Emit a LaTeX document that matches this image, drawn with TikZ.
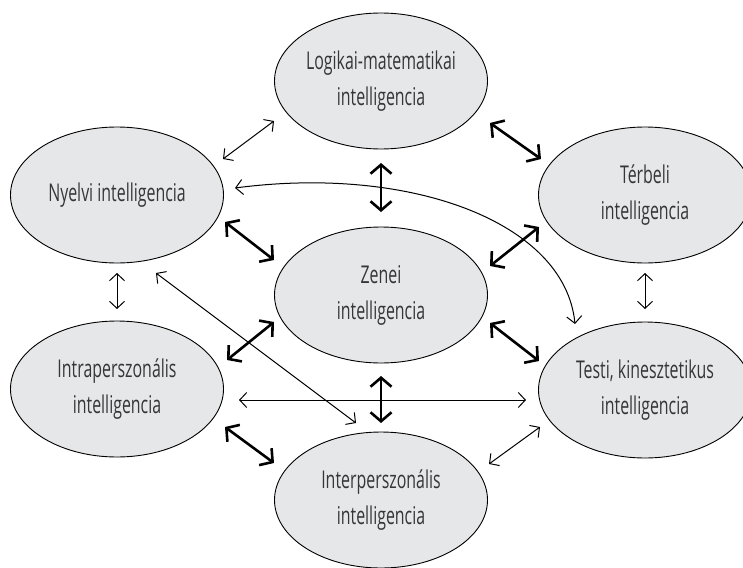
\documentclass[tikz,border=0pt]{standalone}
\usepackage{fontspec}
\setmainfont{Open Sans}[FakeStretch=0.65]
\usetikzlibrary{arrows.meta,calc,shapes.geometric}
\definecolor{ellfill}{HTML}{E6E7E8}
\definecolor{txt}{HTML}{363636}
\tikzset{
  intel/.style={ellipse,draw=black,line width=0.9pt,fill=ellfill,minimum width=213pt,minimum height=136pt,inner sep=0pt,align=center,text=txt,font=\fontsize{24.5}{36}\selectfont},
  thinarr/.style={line width=1pt,{Straight Barb[length=7pt,width=15pt]}-{Straight Barb[length=7pt,width=15pt]}},
  thickarr/.style={line width=2.6pt,{Straight Barb[length=9pt,width=21pt]}-{Straight Barb[length=9pt,width=21pt]}}
}
\begin{document}
\begin{tikzpicture}[x=1pt,y=-1pt]
\useasboundingbox (0,0) rectangle (743,567);
\node[intel] (log) at (381,81) {Logikai-matematikai\\intelligencia};
\node[intel] (nyel) at (117,195) {Nyelvi intelligencia};
\node[intel] (ter) at (645,195) {Térbeli\\intelligencia};
\node[intel] (zen) at (381,295) {Zenei\\intelligencia};
\node[intel] (intra) at (117,389) {Intraperszonális\\intelligencia};
\node[intel] (testi) at (645,390) {Testi, kinesztetikus\\intelligencia};
\node[intel] (inter) at (381,500) {Interperszonális\\intelligencia};

\draw[thinarr] ($(nyel)+(106,-36)$) -- ($(log)+(-107,40)$);
\draw[thickarr] ($(log)+(109,42)$) -- ($(ter)+(-104,-36)$);
\draw[thickarr] ($(log)+(0,82)$) -- ($(zen)+(0,-83)$);
\draw[thickarr] ($(nyel)+(108,27)$) -- ($(zen)+(-107,-35)$);
\draw[thickarr] ($(ter)+(-106,32)$) -- ($(zen)+(109,-29)$);
\draw[thinarr] ($(nyel)+(0,78)$) -- ($(intra)+(0,-80)$);
\draw[thinarr] ($(ter)+(0,78)$) -- ($(testi)+(0,-81)$);
\draw[thinarr] ($(nyel)+(118,-7)$) .. controls (410,165) and (565,222) .. ($(testi)+(-70,-66)$);
\draw[thinarr] ($(nyel)+(39,78)$) -- ($(inter)+(-25,-77)$);
\draw[thickarr] ($(intra)+(110,-29)$) -- ($(zen)+(-107,27)$);
\draw[thickarr] ($(zen)+(109,28)$) -- ($(testi)+(-106,-29)$);
\draw[thickarr] ($(zen)+(0,81)$) -- ($(inter)+(0,-77)$);
\draw[thinarr] ($(intra)+(122,11)$) -- ($(testi)+(-119,10)$);
\draw[thickarr] ($(intra)+(108,38)$) -- ($(inter)+(-107,-37)$);
\draw[thinarr] ($(testi)+(-105,37)$) -- ($(inter)+(108,-36)$);
\end{tikzpicture}
\end{document}
